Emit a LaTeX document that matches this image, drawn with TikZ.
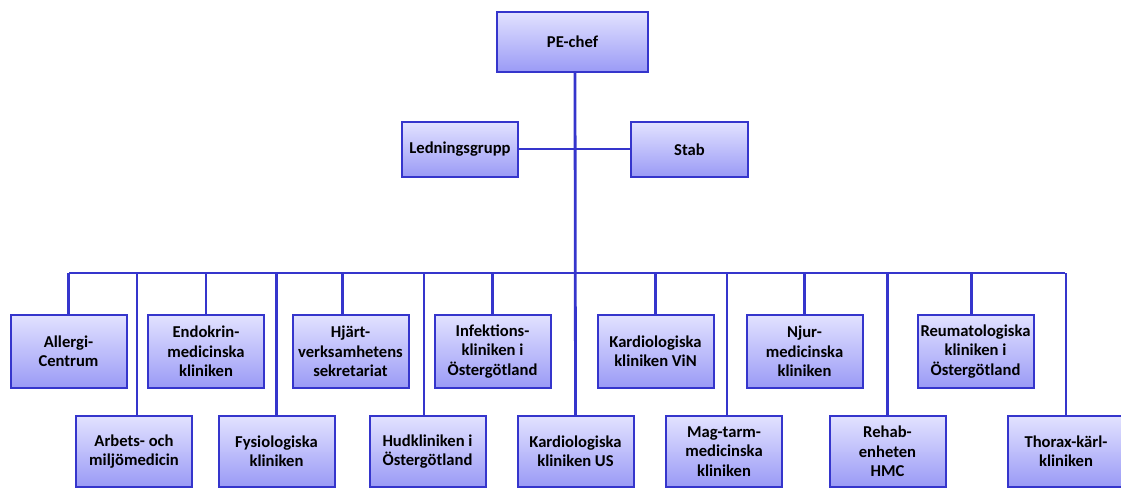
\documentclass[tikz,border=0pt]{standalone}
\usepackage{fontspec}
\setmainfont{Carlito}
\definecolor{lnblue}{HTML}{3535CC}
\definecolor{boxtop}{HTML}{E2E2FF}
\definecolor{boxbot}{HTML}{9A9AF6}
\tikzset{
  orgbox/.style={draw=lnblue, line width=2pt, rectangle, top color=boxtop, bottom color=boxbot,
    minimum width=116pt, inner sep=0pt, align=center,
    font=\fontsize{16.6}{19.3}\selectfont\bfseries},
  toprow/.style={orgbox, minimum height=73pt},
  botrow/.style={orgbox, minimum height=71pt},
  conn/.style={draw=lnblue, line width=2.8pt},
  thin/.style={draw=lnblue, line width=2pt}
}
\begin{document}
\begin{tikzpicture}[x=1pt,y=-1pt]
\useasboundingbox (0,0) rectangle (1121,489);
% top
\node[orgbox, minimum width=151pt, minimum height=60pt] (pe) at (572.5,42) {PE-chef};
\node[orgbox, minimum height=55pt] (led) at (460,149.5) {Ledningsgrupp};
\node[orgbox, minimum width=117pt, minimum height=55pt] (stab) at (689.5,149.5) {Stab};
% top row
\node[toprow] (all) at (68.5,351.5) {Allergi-\\Centrum};
\node[toprow] (endo) at (206,351.5) {Endokrin-\\medicinska\\kliniken};
\node[toprow] (hja) at (350.5,351.5) {Hjärt-\\verksamhetens\\sekretariat};
\node[toprow] (inf) at (492.5,351.5) {Infektions-\\kliniken i\\Östergötland};
\node[toprow] (vin) at (655.5,351.5) {Kardiologiska\\kliniken ViN};
\node[toprow] (njur) at (804.5,351.5) {Njur-\\medicinska\\kliniken};
\node[toprow] (reu) at (975.5,351.5) {Reumatologiska\\kliniken i\\Östergötland};
% bottom row
\node[botrow] (arb) at (134,451.5) {Arbets- och\\miljömedicin};
\node[botrow] (fys) at (276.5,451.5) {Fysiologiska\\kliniken};
\node[botrow] (hud) at (427.5,451.5) {Hudkliniken i\\Östergötland};
\node[botrow] (kus) at (575.5,451.5) {Kardiologiska\\kliniken US};
\node[botrow] (mag) at (724,451.5) {Mag-tarm-\\medicinska\\kliniken};
\node[botrow] (reh) at (887.5,451.5) {Rehab-\\enheten\\HMC};
\node[botrow] (tho) at (1066,451.5) {Thorax-kärl-\\kliniken};
% connectors
\coordinate (busL) at (69,273);
\coordinate (busR) at (1065,273);
\draw[thin] (led.east) -- (stab.west);
\draw[conn] (busL) -- (busR);
\draw[conn] ([xshift=2.5pt]pe.south) -- (kus.north);
\draw[conn] (all.north) -- (all.north |- busL);
\draw[conn] (endo.north) -- (endo.north |- busL);
\draw[conn] ([xshift=-8pt]hja.north) -- ([xshift=-8pt]hja.north |- busL);
\draw[conn] (inf.north) -- (inf.north |- busL);
\draw[conn] (vin.north) -- (vin.north |- busL);
\draw[conn] (njur.north) -- (njur.north |- busL);
\draw[conn] ([xshift=-4pt]reu.north) -- ([xshift=-4pt]reu.north |- busL);
\draw[conn] ([xshift=3pt]arb.north) -- ([xshift=3pt]arb.north |- busL);
\draw[conn] (fys.north) -- (fys.north |- busL);
\draw[conn] ([xshift=-3.5pt]hud.north) -- ([xshift=-3.5pt]hud.north |- busL);
\draw[conn] ([xshift=3pt]mag.north) -- ([xshift=3pt]mag.north |- busL);
\draw[conn] (reh.north) -- (reh.north |- busL);
\draw[conn] (tho.north) -- (tho.north |- busR);
\end{tikzpicture}
\end{document}
